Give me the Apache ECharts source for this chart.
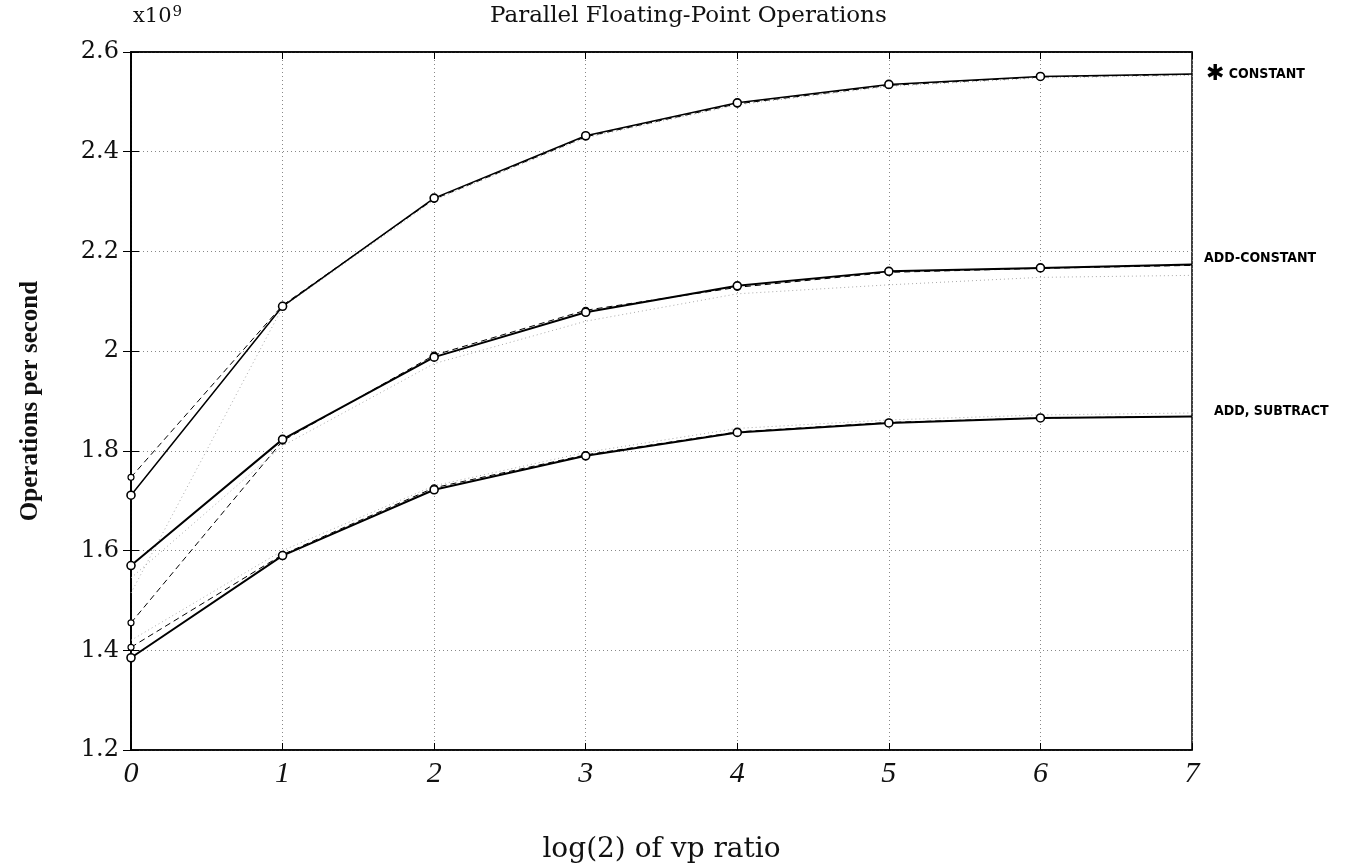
<!DOCTYPE html>
<html>
<head>
<meta charset="utf-8">
<title>Parallel Floating-Point Operations</title>
<script src="https://cdn.jsdelivr.net/npm/echarts@6/dist/echarts.min.js"></script>
<style>
  html, body { margin: 0; padding: 0; background: #fff; }
  #chart { width: 1348px; height: 864px; }
</style>
</head>
<body>
<div id="chart"></div>
<script>
// x: log2 of the vp ratio
var vpRatioLog2 = [0, 1, 2, 3, 4, 5, 6, 7];
var xTickLabels = ['0', '1', '2', '3', '4', '5', '6', '7'];
var yTickLabels = ['1.2', '1.4', '1.6', '1.8', '2', '2.2', '2.4', '2.6'];

// y: operations per second, in units of 1e9
var constSolid  = [1.711, 2.090, 2.307, 2.432, 2.498, 2.535, 2.551, 2.556];
var constDashed = [1.747, 2.092, 2.305, 2.430, 2.496, 2.533, 2.550, 2.555];
var constDotted = [1.515, 2.088, 2.303, 2.428, 2.494, 2.531, 2.548, 2.553];

var addConstSolid  = [1.570, 1.823, 1.988, 2.078, 2.131, 2.160, 2.167, 2.174];
var addConstDashed = [1.455, 1.820, 1.992, 2.082, 2.128, 2.158, 2.166, 2.172];
var addConstDotted = [1.545, 1.810, 1.975, 2.060, 2.115, 2.133, 2.148, 2.152];

var addSubSolid  = [1.385, 1.590, 1.722, 1.790, 1.837, 1.856, 1.866, 1.869];
var addSubDashed = [1.406, 1.592, 1.726, 1.792, 1.838, 1.857, 1.866, 1.869];
var addSubDotted = [1.420, 1.600, 1.730, 1.797, 1.845, 1.862, 1.872, 1.876];

var endNames = ['{s|✱} CONSTANT', 'ADD-CONSTANT', 'ADD, SUBTRACT'];

// the plotted points carry an "o" except the last one at the frame
function pairs(values) {
  return vpRatioLog2.map(function (x, i) {
    var item = { value: [x, values[i]] };
    if (i === vpRatioLog2.length - 1) item.symbol = 'none';
    return item;
  });
}

var handFont = {
  color: '#000', fontFamily: 'DejaVu Sans Condensed', fontWeight: 'bold', fontSize: 14,
  rich: { s: { fontSize: 22, fontWeight: 'bold', color: '#000', fontFamily: 'DejaVu Sans' } }
};

function solid(values, width, label, offset) {
  return {
    type: 'line', data: pairs(values), z: 5,
    symbol: 'circle', symbolSize: 8, showSymbol: true,
    itemStyle: { color: '#fff', borderColor: '#000', borderWidth: 1.6 },
    lineStyle: { color: '#000', width: width },
    endLabel: Object.assign({ show: true, formatter: label, offset: offset }, handFont),
    animation: false
  };
}
function dashed(values) {
  return {
    type: 'line', data: pairs(values), z: 4,
    symbol: 'circle', symbolSize: 6,
    itemStyle: { color: '#fff', borderColor: '#000', borderWidth: 1.2 },
    lineStyle: { color: '#000', width: 1, type: [6, 4] },
    animation: false
  };
}
function dotted(values) {
  return {
    type: 'line', data: pairs(values), z: 3, showSymbol: false,
    lineStyle: { color: '#aaa', width: 1, type: [1, 3] },
    animation: false
  };
}

var chart = echarts.init(document.getElementById('chart'));
chart.setOption({
  backgroundColor: '#fff',
  title: [
    {
      text: 'Parallel Floating-Point Operations', left: 485, top: 0,
      textStyle: { fontFamily: 'DejaVu Serif', fontWeight: 'normal', fontSize: 23, color: '#111' }
    },
    {
      text: 'x10{sup|9}', left: 128, top: 0,
      textStyle: {
        fontFamily: 'DejaVu Serif', fontWeight: 'normal', fontSize: 21, color: '#111',
        rich: { sup: { fontFamily: 'DejaVu Serif', fontSize: 15, color: '#111', verticalAlign: 'top', padding: [0, 0, 8, 1] } }
      }
    }
  ],
  grid: {
    left: 131, right: 156, top: 52, bottom: 114, outerBoundsMode: 'none',
    show: true, borderColor: '#000', borderWidth: 1.5
  },
  xAxis: [
    {
      type: 'value', min: 0, max: 7, interval: 1, position: 'bottom',
      axisLine: { lineStyle: { color: '#000', width: 1.5 } },
      axisTick: { inside: true, length: 7, lineStyle: { color: '#000' } },
      axisLabel: {
        formatter: function (v) { return xTickLabels[Math.round(v)]; },
        fontFamily: 'Liberation Serif', fontStyle: 'italic', fontSize: 30, color: '#111', margin: 9
      },
      splitLine: { show: true, lineStyle: { type: [1, 3], color: '#888' } },
      name: 'log(2) of vp ratio', nameLocation: 'middle', nameGap: 86,
      nameTextStyle: { fontFamily: 'DejaVu Serif', fontSize: 28, color: '#111' }
    },
    {
      type: 'value', min: 0, max: 7, interval: 1, position: 'top',
      axisLine: { lineStyle: { color: '#000', width: 1.5 } },
      axisTick: { inside: true, length: 7, lineStyle: { color: '#000' } },
      axisLabel: { show: false }, splitLine: { show: false }
    }
  ],
  yAxis: [
    {
      type: 'value', min: 1.2, max: 2.6, interval: 0.2, position: 'left',
      axisLine: { show: true, lineStyle: { color: '#000', width: 1.5 } },
      axisTick: { show: true, inside: true, length: 8, lineStyle: { color: '#000' } },
      axisLabel: {
        formatter: function (v) { return yTickLabels[Math.round((v - 1.2) / 0.2)]; },
        fontFamily: 'DejaVu Serif', fontSize: 24, color: '#111', margin: 12
      },
      splitLine: { show: true, lineStyle: { type: [1, 3], color: '#888' } },
      name: 'Operations per second', nameLocation: 'middle', nameGap: 88, nameRotate: 90,
      nameTextStyle: { fontFamily: 'Liberation Serif', fontWeight: 'bold', fontSize: 25, color: '#111' }
    },
    {
      type: 'value', min: 1.2, max: 2.6, interval: 0.2, position: 'right',
      axisLine: { show: true, lineStyle: { color: '#000', width: 1.5 } },
      axisTick: { show: true, inside: true, length: 8, lineStyle: { color: '#000' } },
      axisLabel: { show: false }, splitLine: { show: false }
    }
  ],
  series: [
    dotted(constDotted),
    dotted(addConstDotted),
    dotted(addSubDotted),
    dashed(constDashed),
    dashed(addConstDashed),
    dashed(addSubDashed),
    solid(constSolid, 1.5, endNames[0], [6, 0]),
    solid(addConstSolid, 2, endNames[1], [4, -6]),
    solid(addSubSolid, 2, endNames[2], [14, -5])
  ]
});
</script>
</body>
</html>
